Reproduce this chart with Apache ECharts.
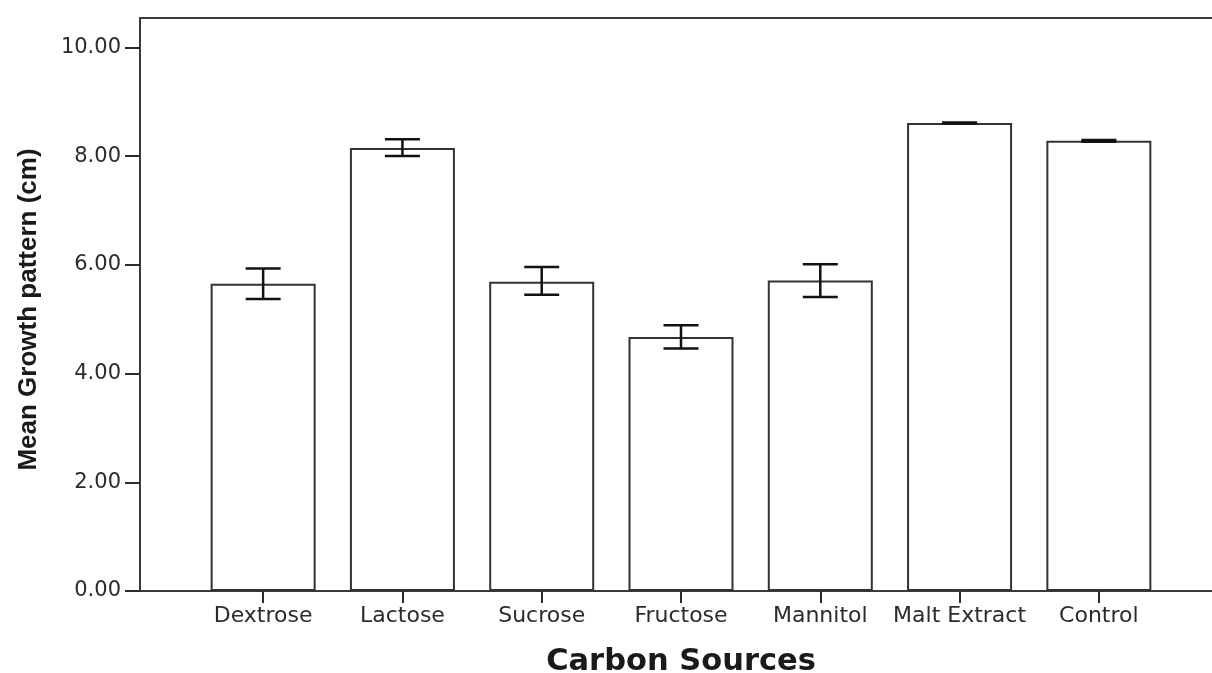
<!DOCTYPE html>
<html>
<head>
<meta charset="utf-8">
<title>Mean Growth pattern by Carbon Source</title>
<script src="https://cdn.jsdelivr.net/npm/echarts@6/dist/echarts.min.js"></script>
<style>
  html, body { margin: 0; padding: 0; background: #fff; }
  #chart { width: 1212px; height: 673px; }
</style>
</head>
<body>
<div id="chart"></div>
<script>
// Carbon sources tested and the mean growth measured on each (cm)
const categories = ['Dextrose', 'Lactose', 'Sucrose', 'Fructose', 'Mannitol', 'Malt Extract', 'Control'];
const meanGrowth = [5.65, 8.15, 5.69, 4.67, 5.71, 8.61, 8.28];
// Error bar limits (low / high) for each mean
const errLow  = [5.37, 8.00, 5.45, 4.46, 5.41, 8.60, 8.265];
const errHigh = [5.93, 8.31, 5.96, 4.89, 6.01, 8.62, 8.295];
// Value-axis tick labels
const yTicks = [0, 2, 4, 6, 8, 10];

const Y_MAX = 10.54;
const FONT = 'DejaVu Sans';
const INK = '#2b2b2b';

const chart = echarts.init(document.getElementById('chart'), null, { renderer: 'canvas' });

const errorData = categories.map((c, i) => [i, errLow[i], errHigh[i]]);

chart.setOption({
  backgroundColor: '#ffffff',
  animation: false,
  grid: [
    // outer frame with the value axis (right edge runs past the canvas)
    { left: 140, right: -20, top: 18, bottom: 82, outerBoundsMode: 'none', containLabel: false,
      show: true, borderColor: '#3a3a3a', borderWidth: 2, backgroundColor: 'transparent' },
    // inner area holding the categories
    { left: 193.5, right: 43.5, top: 18, bottom: 82, outerBoundsMode: 'none', containLabel: false }
  ],
  xAxis: [
    { gridIndex: 0, type: 'value', min: 0, max: 1, show: false },
    {
      gridIndex: 1,
      type: 'category',
      data: categories,
      axisLine: { show: false },
      axisTick: { show: true, alignWithLabel: true, length: 12, lineStyle: { color: INK, width: 2 } },
      axisLabel: { color: INK, fontFamily: FONT, fontSize: 22, margin: 14, interval: 0, hideOverlap: false },
      name: 'Carbon Sources',
      nameLocation: 'middle',
      nameGap: 56,
      nameTextStyle: { color: '#1a1a1a', fontFamily: FONT, fontWeight: 'bold', fontSize: 30.5 }
    }
  ],
  yAxis: [
    {
      gridIndex: 0,
      type: 'value',
      min: 0,
      max: Y_MAX,
      splitLine: { show: false },
      axisLine: { show: true, lineStyle: { color: '#3a3a3a', width: 2 } },
      axisTick: { show: true, length: 15, customValues: yTicks, lineStyle: { color: INK, width: 2 } },
      axisLabel: {
        color: INK, fontFamily: FONT, fontSize: 21, margin: 19,
        customValues: yTicks,
        formatter: v => v.toFixed(2)
      },
      name: 'Mean Growth pattern (cm)',
      nameLocation: 'middle',
      nameRotate: 90,
      nameGap: 98,
      nameTextStyle: { color: '#1a1a1a', fontFamily: 'Liberation Sans', fontWeight: 'bold', fontSize: 26, padding: [0, 10, 0, 0] }
    },
    { gridIndex: 1, type: 'value', min: 0, max: Y_MAX, show: false }
  ],
  series: [
    {
      type: 'bar',
      xAxisIndex: 1,
      yAxisIndex: 1,
      data: meanGrowth,
      barWidth: 105,
      itemStyle: { color: '#ffffff', borderColor: '#333333', borderWidth: 2 }
    },
    {
      type: 'custom',
      xAxisIndex: 1,
      yAxisIndex: 1,
      data: errorData,
      z: 5,
      renderItem: function (params, api) {
        const top = api.coord([api.value(0), api.value(2)]);
        const bottom = api.coord([api.value(0), api.value(1)]);
        const half = 17.5;
        const style = { stroke: '#111111', lineWidth: 2.5 };
        return {
          type: 'group',
          children: [
            { type: 'line', shape: { x1: top[0], y1: top[1], x2: bottom[0], y2: bottom[1] }, style },
            { type: 'line', shape: { x1: top[0] - half, y1: top[1], x2: top[0] + half, y2: top[1] }, style },
            { type: 'line', shape: { x1: bottom[0] - half, y1: bottom[1], x2: bottom[0] + half, y2: bottom[1] }, style }
          ]
        };
      }
    }
  ]
});
</script>
</body>
</html>
